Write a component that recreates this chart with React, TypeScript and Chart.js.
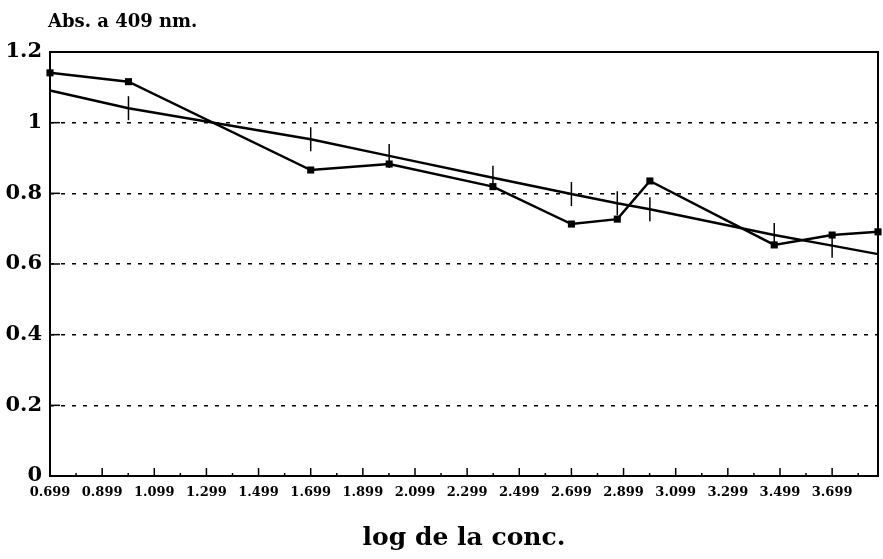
import React, { useEffect, useRef } from "react";
import { Chart, registerables } from "chart.js";

Chart.register(...registerables);

const xValues = [0.699, 1.0, 1.699, 2.0, 2.398, 2.699, 2.875, 3.0, 3.477, 3.699, 3.875];
const absValues = [1.141, 1.116, 0.866, 0.883, 0.819, 0.713, 0.727, 0.835, 0.654, 0.682, 0.691];
const fitValues = [1.091, 1.041, 0.953, 0.906, 0.844, 0.798, 0.772, 0.755, 0.682, 0.652, 0.628];

const xTickLabels = [
  "0.699", "0.899", "1.099", "1.299", "1.499", "1.699", "1.899", "2.099",
  "2.299", "2.499", "2.699", "2.899", "3.099", "3.299", "3.499", "3.699",
];
const yTickLabels = ["0", "0.2", "0.4", "0.6", "0.8", "1", "1.2"];

const yTitle = "Abs. a 409 nm.";
const xTitle = "log de la conc.";

const X_MIN = 0.699;
const X_MAX = 3.875;
const FONT = "'DejaVu Serif', serif";

const framePlugin = {
  id: "frame",
  beforeDatasetsDraw(chart: any) {
    const { ctx, chartArea, scales } = chart;
    const { left, right, top, bottom } = chartArea;
    ctx.save();
    ctx.strokeStyle = "#000";
    ctx.lineWidth = 2;
    ctx.strokeRect(left, top, right - left, bottom - top);
    ctx.lineWidth = 1.5;
    const xs = scales.x;
    xTickLabels.forEach((l) => {
      const v = parseFloat(l);
      const px = xs.getPixelForValue(v);
      ctx.beginPath();
      ctx.moveTo(px, bottom);
      ctx.lineTo(px, bottom - 8);
      ctx.stroke();
      const mv = v + 0.1;
      if (mv < X_MAX) {
        const mpx = xs.getPixelForValue(mv);
        ctx.beginPath();
        ctx.moveTo(mpx, bottom);
        ctx.lineTo(mpx, bottom - 3);
        ctx.stroke();
      }
    });
    const ys = scales.y;
    yTickLabels.forEach((l) => {
      const py = ys.getPixelForValue(parseFloat(l));
      ctx.beginPath();
      ctx.moveTo(left, py);
      ctx.lineTo(left + 10, py);
      ctx.stroke();
    });
    ctx.restore();
  },
  afterDraw(chart: any) {
    const { ctx, chartArea } = chart;
    ctx.save();
    ctx.fillStyle = "#000";
    ctx.font = `bold 18px ${FONT}`;
    ctx.textAlign = "left";
    ctx.textBaseline = "alphabetic";
    ctx.fillText(yTitle, 48, 27);
    ctx.font = `bold 25px ${FONT}`;
    ctx.textAlign = "center";
    ctx.fillText(xTitle, (chartArea.left + chartArea.right) / 2, 545);
    ctx.restore();
  },
};

export default function App() {
  const canvasRef = useRef<HTMLCanvasElement | null>(null);

  useEffect(() => {
    if (!canvasRef.current) return;
    const chart = new Chart(canvasRef.current, {
      type: "line",
      data: {
        datasets: [
          {
            label: "Abs",
            data: xValues.map((x, i) => ({ x, y: absValues[i] })),
            borderColor: "#000",
            backgroundColor: "#000",
            borderWidth: 2.5,
            pointStyle: "rect",
            pointRadius: 5,
            pointBorderWidth: 0,
            tension: 0,
            clip: false,
          },
          {
            label: "Ajuste",
            data: xValues.map((x, i) => ({ x, y: fitValues[i] })),
            borderColor: "#000",
            backgroundColor: "#000",
            borderWidth: 2.5,
            pointStyle: "line",
            pointRotation: 90,
            pointRadius: 12,
            pointBorderWidth: 1.5,
            tension: 0,
            clip: false,
          },
        ],
      },
      options: {
        animation: false,
        responsive: false,
        devicePixelRatio: 1,
        layout: { autoPadding: false, padding: { left: 0, top: 52, right: 5, bottom: 0 } },
        plugins: { legend: { display: false }, tooltip: { enabled: false }, title: { display: false } },
        scales: {
          x: {
            type: "linear",
            min: X_MIN,
            max: X_MAX,
            afterBuildTicks: (scale: any) => {
              scale.ticks = xTickLabels.map((l) => ({ value: parseFloat(l) }));
            },
            afterFit: (scale: any) => {
              scale.height = 83;
              scale.paddingLeft = 0;
              scale.paddingRight = 0;
            },
            ticks: {
              autoSkip: false,
              maxRotation: 0,
              padding: 9,
              color: "#000",
              font: { family: FONT, size: 13, weight: "bold" },
              callback: (_v: any, i: number) => xTickLabels[i],
            },
            grid: { display: false, drawTicks: false },
            border: { display: false },
          },
          y: {
            type: "linear",
            min: 0,
            max: 1.2,
            afterBuildTicks: (scale: any) => {
              scale.ticks = yTickLabels.map((l) => ({ value: parseFloat(l) }));
            },
            afterFit: (scale: any) => {
              scale.width = 50;
              scale.paddingTop = 0;
              scale.paddingBottom = 0;
            },
            ticks: {
              padding: 8,
              color: "#000",
              font: { family: FONT, size: 21, weight: "bold" },
              callback: (_v: any, i: number) => yTickLabels[i],
            },
            grid: {
              drawTicks: false,
              lineWidth: 1.5,
              color: (c: any) =>
                c.tick && (c.tick.value === 0 || c.tick.value === 1.2) ? "rgba(0,0,0,0)" : "#000",
            },
            border: { display: false, dash: [4, 7] },
          },
        },
      },
      plugins: [framePlugin],
    });
    return () => chart.destroy();
  }, []);

  return (
    <div style={{ position: "absolute", left: 0, top: 0, width: 883, height: 559, background: "#fff" }}>
      <canvas ref={canvasRef} width={883} height={559} />
    </div>
  );
}
